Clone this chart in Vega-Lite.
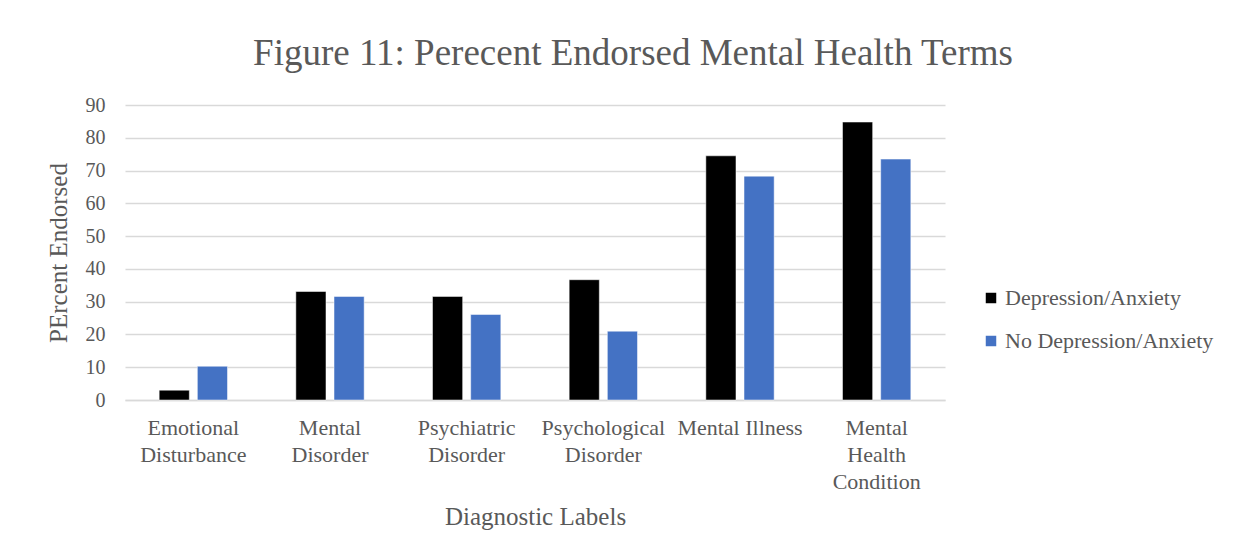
{
  "$schema": "https://vega.github.io/schema/vega-lite/v6.json",
  "autosize": {"type": "none"},
  "width": 820,
  "height": 295,
  "padding": {"left": 125, "top": 105, "right": 302, "bottom": 159},
  "background": "#ffffff",
  "title": {
    "text": "Figure 11: Perecent Endorsed Mental Health Terms",
    "font": "Liberation Serif",
    "fontSize": 37,
    "fontWeight": "normal",
    "color": "#595959",
    "anchor": "middle",
    "dx": 98,
    "offset": 22
  },
  "data": {
    "values": [
      {"label": "Emotional Disturbance", "group": "Depression/Anxiety", "pct": 3.0},
      {"label": "Emotional Disturbance", "group": "No Depression/Anxiety", "pct": 10.3},
      {"label": "Mental Disorder", "group": "Depression/Anxiety", "pct": 33.1},
      {"label": "Mental Disorder", "group": "No Depression/Anxiety", "pct": 31.6},
      {"label": "Psychiatric Disorder", "group": "Depression/Anxiety", "pct": 31.6},
      {"label": "Psychiatric Disorder", "group": "No Depression/Anxiety", "pct": 26.1},
      {"label": "Psychological Disorder", "group": "Depression/Anxiety", "pct": 36.7},
      {"label": "Psychological Disorder", "group": "No Depression/Anxiety", "pct": 21.0},
      {"label": "Mental Illness", "group": "Depression/Anxiety", "pct": 74.5},
      {"label": "Mental Illness", "group": "No Depression/Anxiety", "pct": 68.3},
      {"label": "Mental Health Condition", "group": "Depression/Anxiety", "pct": 84.8},
      {"label": "Mental Health Condition", "group": "No Depression/Anxiety", "pct": 73.5}
    ]
  },
  "mark": {"type": "bar", "stroke": "#ffffff", "strokeWidth": 0.5},
  "encoding": {
    "x": {
      "field": "label",
      "type": "nominal",
      "sort": null,
      "scale": {"paddingInner": 0.5, "paddingOuter": 0.25},
      "axis": {
        "title": "Diagnostic Labels",
        "labelAngle": 0,
        "labelExpr": "datum.value == 'Mental Health Condition' ? ['Mental','Health','Condition'] : datum.value == 'Mental Illness' ? 'Mental Illness' : split(datum.value, ' ')",
        "labelFontSize": 22,
        "labelLineHeight": 27,
        "labelBaseline": "top",
        "labelPadding": 17,
        "labelLimit": 0,
        "labelOverlap": false,
        "ticks": false,
        "domainColor": "#d9d9d9",
        "domainWidth": 1.5,
        "titlePadding": 12
      }
    },
    "xOffset": {
      "field": "group",
      "type": "nominal",
      "scale": {"paddingInner": 0.21, "paddingOuter": 0}
    },
    "y": {
      "field": "pct",
      "type": "quantitative",
      "scale": {"domain": [0, 90]},
      "axis": {
        "title": "PErcent Endorsed",
        "values": [0, 10, 20, 30, 40, 50, 60, 70, 80, 90],
        "domain": false,
        "ticks": false,
        "labelPadding": 20,
        "gridColor": "#d9d9d9",
        "gridWidth": 1.5,
        "titlePadding": 14
      }
    },
    "color": {
      "field": "group",
      "type": "nominal",
      "scale": {"domain": ["Depression/Anxiety", "No Depression/Anxiety"], "range": ["#000000", "#4472C4"]},
      "legend": {
        "title": null,
        "orient": "none",
        "legendX": 855,
        "legendY": 182,
        "symbolType": "square",
        "symbolSize": 110,
        "symbolStrokeWidth": 0,
        "labelFontSize": 22,
        "labelFont": "Liberation Serif",
        "labelColor": "#595959",
        "labelLimit": 0,
        "rowPadding": 21,
        "labelOffset": 3
      }
    }
  },
  "config": {
    "view": {"stroke": null},
    "axis": {
      "labelFont": "Liberation Serif",
      "labelFontSize": 20,
      "labelColor": "#595959",
      "titleFont": "Liberation Serif",
      "titleFontSize": 25,
      "titleFontWeight": "normal",
      "titleColor": "#595959"
    }
  }
}
